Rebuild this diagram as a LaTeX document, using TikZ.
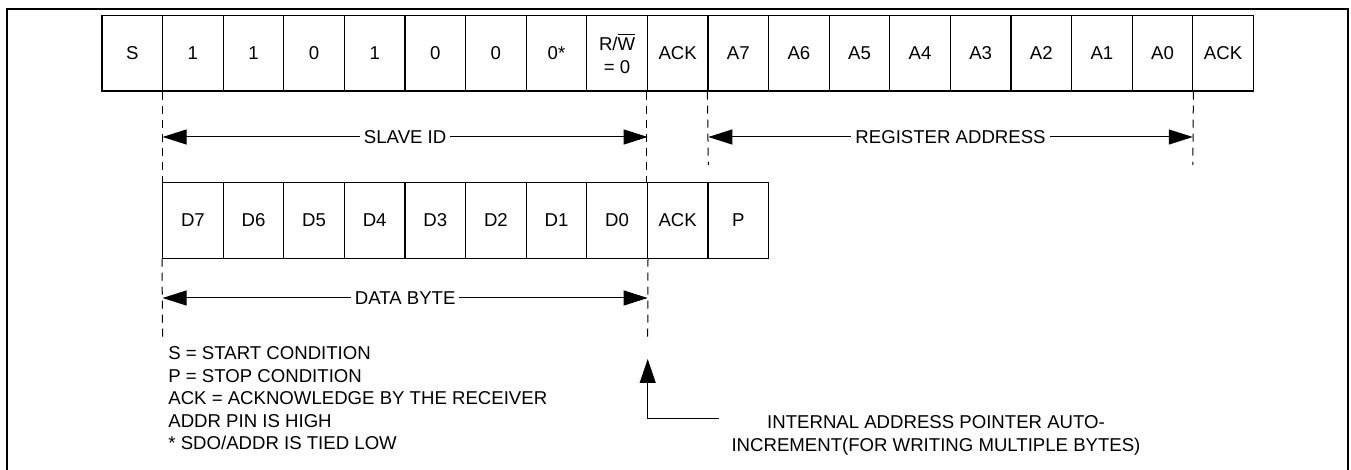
\documentclass[tikz,border=0pt]{standalone}
\usepackage{fontspec}
\setmainfont{Liberation Sans}
\usetikzlibrary{arrows.meta}

\begin{document}
\begin{tikzpicture}[x=0.5pt,y=-0.5pt]
\tikzset{
  bitcell/.style={rectangle,draw=black,line width=0.6pt,minimum width=30.3pt,minimum height=37.65pt,inner sep=0pt,font=\fontsize{9.3pt}{11.5pt}\selectfont,align=center},
  frameline/.style={draw=black,line width=0.9pt},
  dashline/.style={draw=black,line width=0.5pt,dash pattern=on 4pt off 3pt},
  dimline/.style={draw=black,line width=0.5pt},
  dimarrow/.style={dimline,{Triangle[length=12pt,width=7.5pt]}-{Triangle[length=12pt,width=7.5pt]}},
  uparrow/.style={dimline,-{Triangle[length=12pt,width=8pt]}},
  dimlabel/.style={fill=white,inner sep=2pt,font=\fontsize{9.3pt}{11.25pt}\selectfont},
  notetext/.style={inner sep=0pt,font=\fontsize{9.3pt}{11.25pt}\selectfont}
}
\useasboundingbox (0,0) rectangle (1351,470);
\draw[frameline] (6.7,470) -- (6.7,9) -- (1348,9) -- (1348,470);
% first frame: slave id + register address
\node[bitcell] (n_S) at (132.3,53.35) {S};
\node[bitcell] (n_ID6) at (192.9,53.35) {1};
\node[bitcell] (n_ID5) at (253.5,53.35) {1};
\node[bitcell] (n_ID4) at (314.1,53.35) {0};
\node[bitcell] (n_ID3) at (374.7,53.35) {1};
\node[bitcell] (n_ID2) at (435.3,53.35) {0};
\node[bitcell] (n_ID1) at (495.9,53.35) {0};
\node[bitcell] (n_ID0) at (556.5,53.35) {0*};
\node[bitcell] (n_RW) at (617.1,53.35) {R/$\overline{\hbox{W}}$\\= 0};
\node[bitcell] (n_ACK0) at (677.7,53.35) {ACK};
\node[bitcell] (n_A7) at (738.3,53.35) {A7};
\node[bitcell] (n_A6) at (798.9,53.35) {A6};
\node[bitcell] (n_A5) at (859.5,53.35) {A5};
\node[bitcell] (n_A4) at (920.1,53.35) {A4};
\node[bitcell] (n_A3) at (980.7,53.35) {A3};
\node[bitcell] (n_A2) at (1041.3,53.35) {A2};
\node[bitcell] (n_A1) at (1101.9,53.35) {A1};
\node[bitcell] (n_A0) at (1162.5,53.35) {A0};
\node[bitcell] (n_ACK1) at (1223.1,53.35) {ACK};
% second frame: data byte
\node[bitcell] (n_D7) at (192.9,220.5) {D7};
\node[bitcell] (n_D6) at (253.5,220.5) {D6};
\node[bitcell] (n_D5) at (314.1,220.5) {D5};
\node[bitcell] (n_D4) at (374.7,220.5) {D4};
\node[bitcell] (n_D3) at (435.3,220.5) {D3};
\node[bitcell] (n_D2) at (495.9,220.5) {D2};
\node[bitcell] (n_D1) at (556.5,220.5) {D1};
\node[bitcell] (n_D0) at (617.1,220.5) {D0};
\node[bitcell] (n_ACK2) at (677.7,220.5) {ACK};
\node[bitcell] (n_P) at (738.3,220.5) {P};
\coordinate (c_slave_l) at (162.6,137);
\coordinate (c_slave_r) at (647.7,137);
\coordinate (c_reg_l) at (708.3,137);
\coordinate (c_reg_r) at (1192.8,137);
\coordinate (c_reg_lend) at (708.3,165);
\coordinate (c_reg_rend) at (1192.8,165);
\coordinate (c_data_l) at (162.6,298);
\coordinate (c_data_r) at (647.7,298);
\coordinate (c_data_lend) at (162.6,338);
\coordinate (c_data_rend) at (647.7,338);
\coordinate (c_tip) at (647.7,359);
\coordinate (c_foot) at (719,419);
\draw[dashline] (n_ID6.south west) -- (n_D7.north west);
\draw[dashline] (n_ACK0.south west) -- (n_ACK2.north west);
\draw[dashline] (n_A7.south west) -- (c_reg_lend);
\draw[dashline] (n_A0.south east) -- (c_reg_rend);
\draw[dashline] (n_D7.south west) -- (c_data_lend);
\draw[dashline] (n_D0.south east) -- (c_data_rend);
\draw[dimarrow] (c_slave_l) -- node[dimlabel] (n_slave) {SLAVE ID} (c_slave_r);
\draw[dimarrow] (c_reg_l) -- node[dimlabel] (n_reg) {REGISTER ADDRESS} (c_reg_r);
\draw[dimarrow] (c_data_l) -- node[dimlabel] (n_data) {DATA BYTE} (c_data_r);
\draw[uparrow] (c_foot) -| (c_tip);
\node[notetext,anchor=north west,align=left] (n_legend) at (168,346.4) {S = START CONDITION\\P = STOP CONDITION\\ACK = ACKNOWLEDGE BY THE RECEIVER\\ADDR PIN IS HIGH\\* SDO/ADDR IS TIED LOW};
\node[notetext,anchor=north,align=center] (n_autoinc) at (936,415.4) {INTERNAL ADDRESS POINTER AUTO-\\INCREMENT(FOR WRITING MULTIPLE BYTES)};
\end{tikzpicture}
\end{document}
